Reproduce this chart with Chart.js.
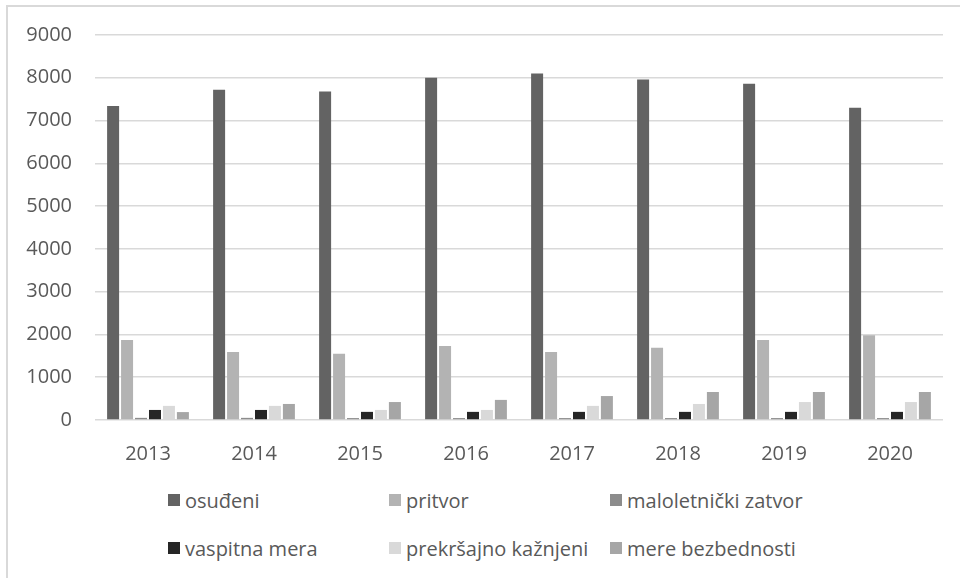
<!DOCTYPE html>
<html>

<head>
    <style>
        body { margin: 0; background: #fff; font-family: 'Open Sans', sans-serif; }
        #frame { position: absolute; left: 6px; top: 5px; width: 954px; height: 573px; border-left: 2px solid #d9d9d9; border-top: 2px solid #d9d9d9; }
        #chartBox { position: absolute; left: 0; top: 0; width: 960px; height: 475px; }
        #legend { position: absolute; left: 168px; top: 486px; display: grid; grid-template-columns: 221px 221px 221px; row-gap: 20px; }
        .item { display: flex; align-items: center; height: 28px; color: #595959; font-size: 20px; white-space: nowrap; }
        .swatch { width: 12px; height: 12px; margin-right: 5px; flex: none; }
    </style>
</head>

<body>
    <div id="frame"></div>
    <div id="chartBox">
        <canvas id="myChart"></canvas>
    </div>
    <div id="legend"></div>

    <script src="https://cdn.jsdelivr.net/npm/chart.js"></script>

    <script>
        const years = ['2013', '2014', '2015', '2016', '2017', '2018', '2019', '2020'];

        const osudjeni = [7340, 7720, 7680, 8000, 8100, 7960, 7860, 7300];
        const pritvor = [1870, 1590, 1550, 1730, 1590, 1690, 1870, 1980];
        const maloletnicki = [50, 50, 45, 45, 45, 45, 45, 45];
        const vaspitna = [235, 235, 190, 190, 190, 190, 190, 190];
        const prekrsajno = [330, 330, 235, 235, 330, 375, 420, 420];
        const mereBezbednosti = [185, 375, 420, 470, 560, 655, 655, 655];

        const yTicks = [0, 1000, 2000, 3000, 4000, 5000, 6000, 7000, 8000, 9000];

        const series = [
            { label: 'osuđeni', data: osudjeni, color: '#636363' },
            { label: 'pritvor', data: pritvor, color: '#b3b3b3' },
            { label: 'maloletnički zatvor', data: maloletnicki, color: '#8c8c8c' },
            { label: 'vaspitna mera', data: vaspitna, color: '#262626' },
            { label: 'prekršajno kažnjeni', data: prekrsajno, color: '#d9d9d9' },
            { label: 'mere bezbednosti', data: mereBezbednosti, color: '#a6a6a6' }
        ];

        Chart.defaults.font.family = 'Open Sans';
        Chart.defaults.font.size = 20;
        Chart.defaults.color = '#595959';

        const ctx = document.getElementById('myChart');
        const chart = new Chart(ctx, {
            type: 'bar',
            data: {
                labels: years,
                datasets: series.map(s => ({
                    label: s.label,
                    data: s.data,
                    backgroundColor: s.color,
                    borderWidth: 0,
                    barPercentage: 0.86,
                    categoryPercentage: 0.79
                }))
            },
            options: {
                responsive: true,
                maintainAspectRatio: false,
                animation: false,
                layout: {
                    padding: { top: 35, right: 17, left: 0, bottom: 0 }
                },
                plugins: {
                    legend: { display: false },
                    tooltip: { enabled: false }
                },
                scales: {
                    x: {
                        grid: { display: false },
                        border: { display: false },
                        ticks: { padding: 14, maxRotation: 0 },
                        afterFit: (scale) => { scale.height = 55; }
                    },
                    y: {
                        min: 0,
                        max: 9000,
                        afterBuildTicks: (scale) => { scale.ticks = yTicks.map(v => ({ value: v })); },
                        grid: { color: '#d9d9d9', lineWidth: 1.5, drawTicks: false },
                        border: { display: false },
                        ticks: { padding: 23, callback: (v) => String(v) },
                        afterFit: (scale) => { scale.width = 95; }
                    }
                }
            }
        });

        // legend in a fixed 3-column grid like the original
        const legend = document.getElementById('legend');
        chart.data.datasets.forEach(ds => {
            const item = document.createElement('div');
            item.className = 'item';
            const sw = document.createElement('span');
            sw.className = 'swatch';
            sw.style.background = ds.backgroundColor;
            item.appendChild(sw);
            item.appendChild(document.createTextNode(ds.label));
            legend.appendChild(item);
        });
    </script>
</body>

</html>
